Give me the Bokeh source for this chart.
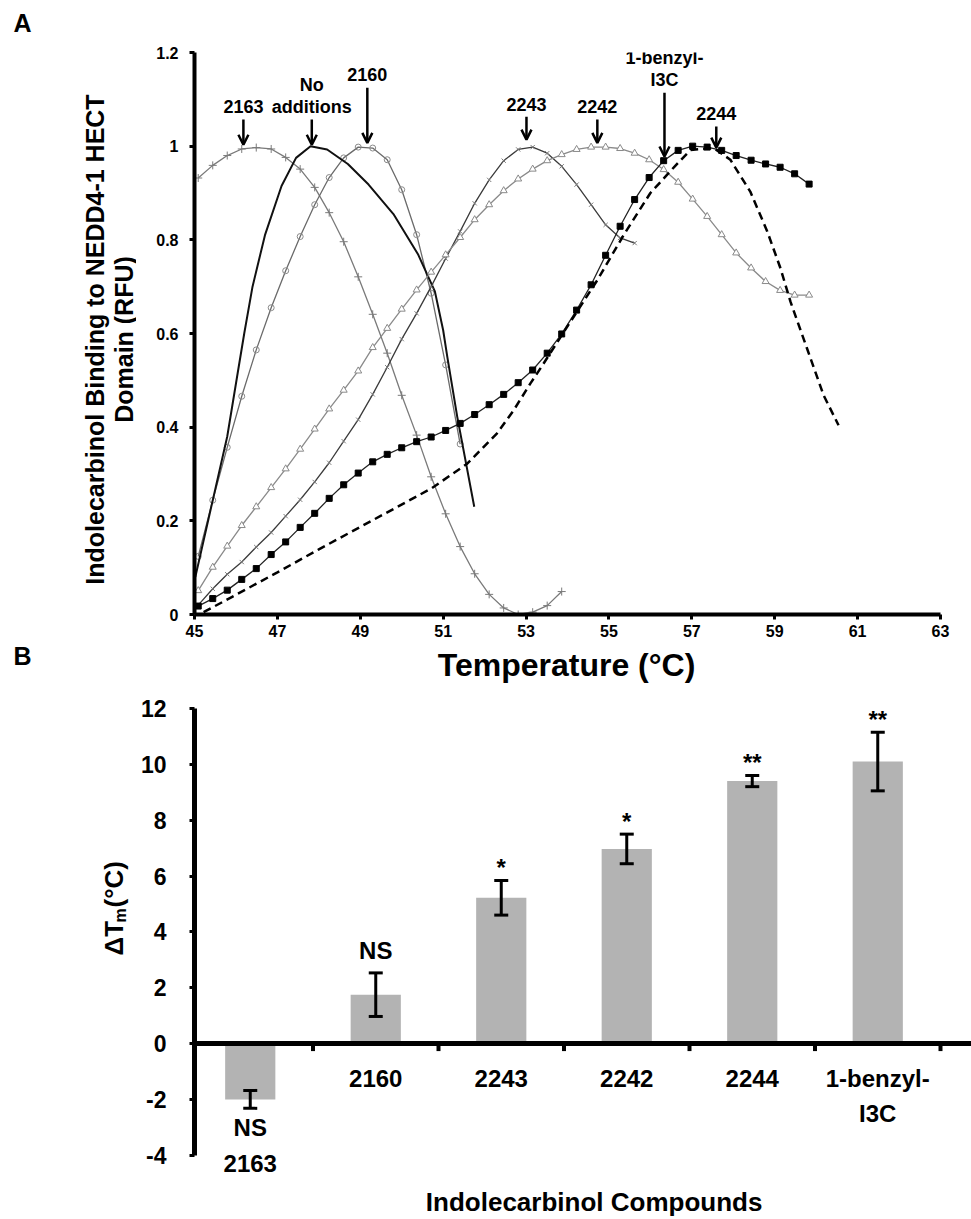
import numpy as np
from bokeh.plotting import figure
from bokeh.models import (ColumnDataSource, Arrow, OpenHead, Whisker, TeeHead,
                          FixedTicker, Span, NumeralTickFormatter, Range1d)
from bokeh.layouts import column, row
from bokeh.embed import file_html
from bokeh.resources import INLINE
from bokeh.core.properties import value

FONT = "Liberation Sans"

# ---------------- Panel A data (thermal shift curves) ----------------
temp = [45.09, 45.44, 45.79, 46.14, 46.49, 46.85, 47.20, 47.55, 47.90, 48.25,
        48.60, 48.95, 49.30, 49.65, 50.00, 50.36, 50.71, 51.06, 51.41, 51.76,
        52.11, 52.46, 52.81, 53.16, 53.51, 53.86, 54.22, 54.57, 54.92, 55.27,
        55.62, 55.97, 56.32, 56.67, 57.02, 57.37, 57.72, 58.07, 58.43, 58.78,
        59.13, 59.48, 59.83]

rfu_2163 = [0.932, 0.959, 0.980, 0.994, 0.997, 0.994, 0.976, 0.951, 0.912, 0.858,
            0.796, 0.721, 0.641, 0.558, 0.468, 0.383, 0.294, 0.215, 0.145, 0.087,
            0.043, 0.014, 0.000, 0.005, 0.019, 0.049]
rfu_2160 = [0.124, 0.244, 0.357, 0.466, 0.565, 0.655, 0.734, 0.807, 0.875, 0.933,
            0.975, 0.998, 0.996, 0.971, 0.907, 0.811, 0.686, 0.533, 0.364]
rfu_2243 = [0.020, 0.055, 0.086, 0.112, 0.144, 0.175, 0.210, 0.245, 0.283, 0.324,
            0.370, 0.416, 0.470, 0.528, 0.588, 0.643, 0.700, 0.760, 0.818, 0.878,
            0.928, 0.969, 0.993, 0.998, 0.985, 0.957, 0.918, 0.875, 0.832, 0.804,
            0.793]
rfu_2242 = [0.051, 0.101, 0.146, 0.190, 0.230, 0.271, 0.311, 0.353, 0.396, 0.439,
            0.479, 0.520, 0.570, 0.611, 0.652, 0.693, 0.731, 0.768, 0.805, 0.843,
            0.875, 0.905, 0.930, 0.951, 0.969, 0.982, 0.993, 0.998, 0.998, 0.995,
            0.985, 0.971, 0.950, 0.923, 0.887, 0.850, 0.811, 0.772, 0.740, 0.711,
            0.692, 0.682, 0.682]
rfu_benzyl = [0.018, 0.034, 0.052, 0.075, 0.098, 0.128, 0.155, 0.186, 0.216, 0.248,
              0.277, 0.302, 0.326, 0.342, 0.356, 0.369, 0.379, 0.393, 0.408, 0.427,
              0.448, 0.470, 0.495, 0.522, 0.558, 0.599, 0.650, 0.704, 0.767, 0.829,
              0.886, 0.933, 0.969, 0.991, 1.000, 0.998, 0.991, 0.980, 0.970, 0.962,
              0.955, 0.941, 0.919]

none_temp = [45.02, 45.43, 45.79, 46.05, 46.20, 46.40, 46.70, 47.10, 47.45, 47.80,
             48.20, 48.70, 49.20, 49.80, 50.40, 50.80, 51.00, 51.10, 51.34, 51.75]
none_rfu = [0.080, 0.240, 0.380, 0.520, 0.600, 0.700, 0.810, 0.915, 0.975, 1.000,
            0.993, 0.962, 0.918, 0.855, 0.768, 0.690, 0.607, 0.550, 0.422, 0.230]

dash_temp = [45.22, 46.00, 47.00, 48.00, 49.00, 49.90, 50.73, 51.58, 52.30, 52.70,
             53.11, 53.35, 54.07, 54.72, 55.36, 56.00, 56.60, 56.97, 57.53, 57.93,
             58.41, 58.82, 59.14, 59.38, 59.78, 60.18, 60.54]
dash_rfu = [0.005, 0.042, 0.090, 0.139, 0.187, 0.230, 0.270, 0.322, 0.387, 0.436,
            0.494, 0.526, 0.625, 0.714, 0.811, 0.900, 0.958, 0.992, 0.996, 0.971,
            0.903, 0.818, 0.739, 0.668, 0.568, 0.468, 0.404]

peak_labels = ["2163", "No\nadditions", "2160", "2243", "2242", "1-benzyl-\nI3C", "2244"]
peak_temps = [46.18, 47.83, 49.17, 53.01, 54.72, 56.34, 57.59]
peak_tips = [1.003, 1.003, 1.007, 1.014, 1.007, 0.978, 0.997]

x_ticks_A = [45, 47, 49, 51, 53, 55, 57, 59, 61, 63]
y_ticks_A = [0, 0.2, 0.4, 0.6, 0.8, 1.0, 1.2]

# ---------------- Panel B data (delta Tm bars) ----------------
compounds = ["2163", "2160", "2243", "2242", "2244", "1-benzyl-\nI3C"]
delta_tm = [-2.0, 1.75, 5.22, 6.97, 9.40, 10.10]
delta_err = [0.32, 0.78, 0.62, 0.53, 0.20, 1.05]
signif = ["NS", "NS", "*", "*", "**", "**"]
y_ticks_B = [-4, -2, 0, 2, 4, 6, 8, 10, 12]


def style_axis(ax, size, lw):
    ax.axis_line_width = lw
    ax.axis_line_color = "black"
    ax.major_tick_line_width = 3
    ax.major_tick_line_color = "black"
    ax.major_tick_out = 5
    ax.major_tick_in = 0
    ax.minor_tick_out = 0
    ax.minor_tick_in = 0
    ax.major_label_text_font = FONT
    ax.major_label_text_font_style = "bold"
    ax.major_label_text_font_size = size
    ax.major_label_text_color = "black"


def bold_text(p, x, y, t, size, angle=0.0, align="center"):
    p.text(x=[x], y=[y], text=[t], angle=angle, text_align=align, text_baseline="middle",
           text_font=value(FONT), text_font_style="bold", text_font_size=size,
           text_color="black")


LEFT_W = 136
W_MAIN = 971 - LEFT_W
HA = 644
HB = 1219 - HA
FRAME_LEFT = 194          # frames of both panels start here

# ================= left strip: panel letters and rotated titles =================
pL = figure(width=LEFT_W, height=1219, x_range=Range1d(0, LEFT_W), y_range=Range1d(1219, 0),
            x_axis_location=None, y_axis_location=None, output_backend="svg",
            toolbar_location=None, min_border=0)
pL.outline_line_color = None
pL.grid.visible = False
bold_text(pL, 22, 22, "A", "25px")
bold_text(pL, 22, 655, "B", "25px")
bold_text(pL, 94, 339, "Indolecarbinol Binding to NEDD4-1 HECT", "25px", angle=np.pi / 2)
bold_text(pL, 123, 339, "Domain (RFU)", "25px", angle=np.pi / 2)
bold_text(pL, 113, 955, "ΔT", "26px", angle=np.pi / 2, align="left")
bold_text(pL, 120, 922, "m", "16px", angle=np.pi / 2, align="left")
bold_text(pL, 113, 907, "(°C)", "26px", angle=np.pi / 2, align="left")

# ================= Figure A =================
pxA = (940 - 194) / 18.0
x_end_A = 63 + (971 - 940) / pxA
pA = figure(width=W_MAIN, height=HA, x_range=(45, x_end_A), y_range=(0, 1.2),
            output_backend="svg", toolbar_location=None,
            min_border_left=FRAME_LEFT - LEFT_W, min_border_right=0, min_border_top=52,
            min_border_bottom=HA - 614)
pA.outline_line_color = None
pA.grid.visible = False

style_axis(pA.xaxis[0], "16px", 4)
style_axis(pA.yaxis[0], "16px", 4)
pA.xaxis[0].ticker = FixedTicker(ticks=x_ticks_A)
pA.xaxis[0].bounds = (45, 63)
pA.yaxis[0].ticker = FixedTicker(ticks=y_ticks_A)
pA.yaxis[0].formatter = NumeralTickFormatter(format="0.[0]")
pA.xaxis[0].major_label_standoff = 5
pA.yaxis[0].major_label_standoff = 11

# 2163 : plus markers
n = len(rfu_2163)
pA.line(temp[:n], rfu_2163, line_color="#7a7a7a", line_width=1.3)
pA.scatter(temp[:n], rfu_2163, marker="cross", size=8, line_color="#7a7a7a", line_width=1)
# 2160 : open circles
n = len(rfu_2160)
pA.line(temp[:n], rfu_2160, line_color="#6a6a6a", line_width=1.3)
pA.scatter(temp[:n], rfu_2160, marker="circle", size=6, line_color="#8a8a8a",
           fill_color=None, line_width=1)
# No additions : plain black
pA.line(none_temp, none_rfu, line_color="#111111", line_width=2)
# 2243 : x markers
n = len(rfu_2243)
pA.line(temp[:n], rfu_2243, line_color="#3a3a3a", line_width=1.3)
pA.scatter(temp[:n], rfu_2243, marker="x", size=6, line_color="#7a7a7a", line_width=1)
# 2242 : open triangles
n = len(rfu_2242)
pA.line(temp[:n], rfu_2242, line_color="#8a8a8a", line_width=1.3)
pA.scatter(temp[:n], rfu_2242, marker="triangle", size=7, line_color="#8a8a8a",
           fill_color="white", line_width=1)
# filled squares
n = len(rfu_benzyl)
pA.line(temp[:n], rfu_benzyl, line_color="#222222", line_width=1.3)
pA.scatter(temp[:n], rfu_benzyl, marker="square", size=6, line_color="black",
           fill_color="black")
# dashed
pA.line(dash_temp, dash_rfu, line_color="black", line_width=2.5, line_dash="8 5")

# peak arrows and labels
tail_gap = [0.054, 0.054, 0.118, 0.049, 0.050, 0.136, 0.045]
for lab, tx, tip, gap in zip(peak_labels, peak_temps, peak_tips, tail_gap):
    top = tip + gap
    pA.add_layout(Arrow(end=OpenHead(size=10, line_width=2.5, line_color="black"),
                        x_start=tx, y_start=top, x_end=tx, y_end=tip,
                        line_width=2.5, line_color="black", level="overlay"))
    lines = lab.split("\n")
    for k, ln in enumerate(lines):
        yk = top + 0.027 + (len(lines) - 1 - k) * 0.047
        bold_text(pA, tx, yk, ln, "18px")

# ================= Figure B =================
ncat = len(compounds)
px_per_unit = 27.93
px_per_cat = 125.5
y_top_B = 12 + (708 - HA) / px_per_unit
y_bot_B = -(1219 - 1043) / px_per_unit
x_start_B = -0.5 + (FRAME_LEFT - 187) / px_per_cat
x_end_B = -0.5 + (971 - 187) / px_per_cat
pB = figure(width=W_MAIN, height=HB, x_range=(x_start_B, x_end_B), y_range=(y_bot_B, y_top_B),
            x_axis_location=None, output_backend="svg", toolbar_location=None,
            min_border_left=FRAME_LEFT - LEFT_W, min_border_right=0, min_border_top=0,
            min_border_bottom=0)
pB.outline_line_color = None
pB.grid.visible = False
style_axis(pB.yaxis[0], "23px", 5)
pB.yaxis[0].ticker = FixedTicker(ticks=y_ticks_B)
pB.yaxis[0].bounds = (-4, 12)
pB.yaxis[0].major_label_standoff = 23
pB.yaxis[0].major_label_overrides = {t: str(t) for t in y_ticks_B}

xs = list(range(ncat))
upper = [m + e for m, e in zip(delta_tm, delta_err)]
lower = [m - e for m, e in zip(delta_tm, delta_err)]
srcB = ColumnDataSource(dict(x=xs, top=delta_tm, upper=upper, lower=lower))
pB.vbar(x="x", top="top", bottom=0, width=0.4, source=srcB,
        fill_color="#b3b3b3", line_color=None)
pB.add_layout(Whisker(base="x", upper="upper", lower="lower", source=srcB, level="overlay",
                      line_width=3, line_color="black",
                      upper_head=TeeHead(size=14, line_width=3, line_color="black"),
                      lower_head=TeeHead(size=14, line_width=3, line_color="black")))

# zero line with category separators
pB.add_layout(Span(location=0, dimension="width", line_color="black", line_width=5))
sep = [i + 0.5 for i in range(ncat)]
pB.segment(x0=sep, y0=[0] * ncat, x1=sep, y1=[-0.27] * ncat, line_color="black", line_width=4)

# significance marks
for i, (s, m) in enumerate(zip(signif, delta_tm)):
    if m >= 0:
        yy = upper[i] + (0.8 if s == "NS" else 0.45)
    else:
        yy = lower[i] - 0.68
    bold_text(pB, i, yy, s, "24px")

# category labels
for i, (c, m) in enumerate(zip(compounds, delta_tm)):
    base = -1.25 if m >= 0 else -4.3
    for k, ln in enumerate(c.split("\n")):
        bold_text(pB, i, base - 1.25 * k, ln, "24px")

bold_text(pB, 2.74, -5.69, "Indolecarbinol Compounds", "26px")
# x-axis title of panel A sits in this band
bold_text(pB, 2.52, (1043 - 664) / px_per_unit, "Temperature (°C)", "32px")

layout = row(pL, column(pA, pB))
open("out.html", "w").write(file_html(layout, INLINE))
